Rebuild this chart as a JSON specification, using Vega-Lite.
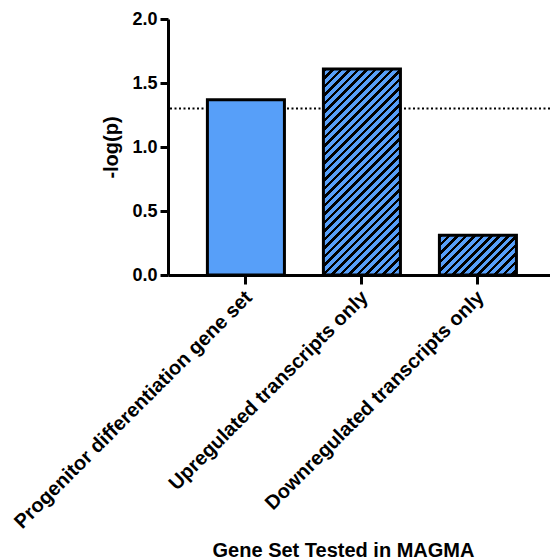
{
  "$schema": "https://vega.github.io/schema/vega-lite/v6.json",
  "autosize": "none",
  "width": 382,
  "height": 256,
  "padding": {"left": 168, "top": 19, "right": 0, "bottom": 285},
  "background": "white",
  "config": {"view": {"stroke": null}, "font": "Liberation Sans"},
  "datasets": {
    "bars": [
      {"gene_set": "Progenitor differentiation gene set", "neg_log_p": 1.37},
      {"gene_set": "Upregulated transcripts only", "neg_log_p": 1.61},
      {"gene_set": "Downregulated transcripts only", "neg_log_p": 0.31}
    ],
    "threshold": [{"neg_log_p": 1.30}]
  },
  "encoding": {
    "y": {
      "field": "neg_log_p", "type": "quantitative",
      "scale": {"domain": [0, 2], "nice": false},
      "axis": {
        "title": "-log(p)", "values": [0, 0.5, 1, 1.5, 2], "format": ".1f",
        "grid": false, "domainColor": "black", "domainWidth": 3,
        "tickColor": "black", "tickWidth": 3, "tickSize": 8,
        "labelFont": "Liberation Sans", "labelFontSize": 18, "labelFontWeight": "bold",
        "labelColor": "black", "labelPadding": 3,
        "titleFont": "Liberation Sans", "titleFontSize": 20, "titleFontWeight": "bold",
        "titleColor": "black", "titlePadding": 10
      }
    }
  },
  "layer": [
    {
      "data": {"name": "threshold"},
      "mark": {"type": "rule", "color": "black", "strokeWidth": 2, "strokeDash": [2, 2.5]},
      "encoding": {}
    },
    {
      "data": {"name": "bars"},
      "transform": [{"filter": "datum.gene_set === 'Progenitor differentiation gene set'"}],
      "mark": {"type": "bar", "fill": "#579ff9", "stroke": "black", "strokeWidth": 3},
      "encoding": {
        "x": {
          "field": "gene_set", "type": "nominal",
          "scale": {"domain": ["Progenitor differentiation gene set", "Upregulated transcripts only", "Downregulated transcripts only"], "paddingInner": 0.336, "paddingOuter": 0.3145, "align": 0.54},
          "axis": {
            "title": "Gene Set Tested in MAGMA", "grid": false,
            "domainColor": "black", "domainWidth": 3,
            "tickColor": "black", "tickWidth": 3, "tickSize": 9,
            "labelAngle": -45, "labelAlign": "right", "labelBaseline": "middle",
            "labelFont": "Liberation Sans", "labelFontSize": 20, "labelFontWeight": "bold", "labelColor": "black",
            "labelPadding": 10, "labelOffset": 3, "labelLimit": 0,
            "titleFont": "Liberation Sans", "titleFontSize": 20, "titleFontWeight": "bold",
            "titleColor": "black", "titleX": 175, "titleY": 281, "titleBaseline": "alphabetic"
          }
        }
      }
    },
    {
      "data": {"name": "bars"},
      "transform": [{"filter": "datum.gene_set === 'Upregulated transcripts only'"}],
      "mark": {
        "type": "bar", "stroke": "black", "strokeWidth": 3,
        "fill": {
          "gradient": "linear", "x1": 0, "y1": 0, "x2": 0.4504, "y2": 1.2055,
          "stops": [
            {"offset": 0, "color": "#000"}, {"offset": 0.013, "color": "#000"}, {"offset": 0.013, "color": "#579ff9"}, {"offset": 0.03, "color": "#579ff9"},
            {"offset": 0.03, "color": "#000"}, {"offset": 0.043, "color": "#000"}, {"offset": 0.043, "color": "#579ff9"}, {"offset": 0.06, "color": "#579ff9"},
            {"offset": 0.06, "color": "#000"}, {"offset": 0.073, "color": "#000"}, {"offset": 0.073, "color": "#579ff9"}, {"offset": 0.09, "color": "#579ff9"},
            {"offset": 0.09, "color": "#000"}, {"offset": 0.103, "color": "#000"}, {"offset": 0.103, "color": "#579ff9"}, {"offset": 0.12, "color": "#579ff9"},
            {"offset": 0.12, "color": "#000"}, {"offset": 0.133, "color": "#000"}, {"offset": 0.133, "color": "#579ff9"}, {"offset": 0.15, "color": "#579ff9"},
            {"offset": 0.15, "color": "#000"}, {"offset": 0.163, "color": "#000"}, {"offset": 0.163, "color": "#579ff9"}, {"offset": 0.18, "color": "#579ff9"},
            {"offset": 0.18, "color": "#000"}, {"offset": 0.193, "color": "#000"}, {"offset": 0.193, "color": "#579ff9"}, {"offset": 0.21, "color": "#579ff9"},
            {"offset": 0.21, "color": "#000"}, {"offset": 0.223, "color": "#000"}, {"offset": 0.223, "color": "#579ff9"}, {"offset": 0.24, "color": "#579ff9"},
            {"offset": 0.24, "color": "#000"}, {"offset": 0.253, "color": "#000"}, {"offset": 0.253, "color": "#579ff9"}, {"offset": 0.27, "color": "#579ff9"},
            {"offset": 0.27, "color": "#000"}, {"offset": 0.283, "color": "#000"}, {"offset": 0.283, "color": "#579ff9"}, {"offset": 0.30, "color": "#579ff9"},
            {"offset": 0.30, "color": "#000"}, {"offset": 0.313, "color": "#000"}, {"offset": 0.313, "color": "#579ff9"}, {"offset": 0.33, "color": "#579ff9"},
            {"offset": 0.33, "color": "#000"}, {"offset": 0.343, "color": "#000"}, {"offset": 0.343, "color": "#579ff9"}, {"offset": 0.36, "color": "#579ff9"},
            {"offset": 0.36, "color": "#000"}, {"offset": 0.373, "color": "#000"}, {"offset": 0.373, "color": "#579ff9"}, {"offset": 0.39, "color": "#579ff9"},
            {"offset": 0.39, "color": "#000"}, {"offset": 0.403, "color": "#000"}, {"offset": 0.403, "color": "#579ff9"}, {"offset": 0.42, "color": "#579ff9"},
            {"offset": 0.42, "color": "#000"}, {"offset": 0.433, "color": "#000"}, {"offset": 0.433, "color": "#579ff9"}, {"offset": 0.45, "color": "#579ff9"},
            {"offset": 0.45, "color": "#000"}, {"offset": 0.463, "color": "#000"}, {"offset": 0.463, "color": "#579ff9"}, {"offset": 0.48, "color": "#579ff9"},
            {"offset": 0.48, "color": "#000"}, {"offset": 0.493, "color": "#000"}, {"offset": 0.493, "color": "#579ff9"}, {"offset": 0.51, "color": "#579ff9"},
            {"offset": 0.51, "color": "#000"}, {"offset": 0.523, "color": "#000"}, {"offset": 0.523, "color": "#579ff9"}, {"offset": 0.54, "color": "#579ff9"},
            {"offset": 0.54, "color": "#000"}, {"offset": 0.553, "color": "#000"}, {"offset": 0.553, "color": "#579ff9"}, {"offset": 0.57, "color": "#579ff9"},
            {"offset": 0.57, "color": "#000"}, {"offset": 0.583, "color": "#000"}, {"offset": 0.583, "color": "#579ff9"}, {"offset": 0.60, "color": "#579ff9"},
            {"offset": 0.60, "color": "#000"}, {"offset": 0.613, "color": "#000"}, {"offset": 0.613, "color": "#579ff9"}, {"offset": 0.63, "color": "#579ff9"},
            {"offset": 0.63, "color": "#000"}, {"offset": 0.643, "color": "#000"}, {"offset": 0.643, "color": "#579ff9"}, {"offset": 0.66, "color": "#579ff9"},
            {"offset": 0.66, "color": "#000"}, {"offset": 0.673, "color": "#000"}, {"offset": 0.673, "color": "#579ff9"}, {"offset": 0.69, "color": "#579ff9"},
            {"offset": 0.69, "color": "#000"}, {"offset": 0.703, "color": "#000"}, {"offset": 0.703, "color": "#579ff9"}, {"offset": 0.72, "color": "#579ff9"},
            {"offset": 0.72, "color": "#000"}, {"offset": 0.733, "color": "#000"}, {"offset": 0.733, "color": "#579ff9"}, {"offset": 0.75, "color": "#579ff9"},
            {"offset": 0.75, "color": "#000"}, {"offset": 0.763, "color": "#000"}, {"offset": 0.763, "color": "#579ff9"}, {"offset": 0.78, "color": "#579ff9"},
            {"offset": 0.78, "color": "#000"}, {"offset": 0.793, "color": "#000"}, {"offset": 0.793, "color": "#579ff9"}, {"offset": 0.81, "color": "#579ff9"},
            {"offset": 0.81, "color": "#000"}, {"offset": 0.823, "color": "#000"}, {"offset": 0.823, "color": "#579ff9"}, {"offset": 0.84, "color": "#579ff9"},
            {"offset": 0.84, "color": "#000"}, {"offset": 0.853, "color": "#000"}, {"offset": 0.853, "color": "#579ff9"}, {"offset": 0.87, "color": "#579ff9"},
            {"offset": 0.87, "color": "#000"}, {"offset": 0.883, "color": "#000"}, {"offset": 0.883, "color": "#579ff9"}, {"offset": 0.90, "color": "#579ff9"},
            {"offset": 0.90, "color": "#000"}, {"offset": 0.913, "color": "#000"}, {"offset": 0.913, "color": "#579ff9"}, {"offset": 0.93, "color": "#579ff9"},
            {"offset": 0.93, "color": "#000"}, {"offset": 0.943, "color": "#000"}, {"offset": 0.943, "color": "#579ff9"}, {"offset": 0.96, "color": "#579ff9"},
            {"offset": 0.96, "color": "#000"}, {"offset": 0.973, "color": "#000"}, {"offset": 0.973, "color": "#579ff9"}, {"offset": 0.99, "color": "#579ff9"},
            {"offset": 0.99, "color": "#000"}, {"offset": 1, "color": "#000"}
          ]
        }
      },
      "encoding": {
        "x": {"field": "gene_set", "type": "nominal"}
      }
    },
    {
      "data": {"name": "bars"},
      "transform": [{"filter": "datum.gene_set === 'Downregulated transcripts only'"}],
      "mark": {
        "type": "bar", "stroke": "black", "strokeWidth": 3,
        "fill": {
          "gradient": "linear", "x1": 0, "y1": 0, "x2": 1.1973, "y2": 0.617,
          "stops": [
            {"offset": 0, "color": "#000"}, {"offset": 0.031, "color": "#000"}, {"offset": 0.031, "color": "#579ff9"}, {"offset": 0.0725, "color": "#579ff9"},
            {"offset": 0.0725, "color": "#000"}, {"offset": 0.1035, "color": "#000"}, {"offset": 0.1035, "color": "#579ff9"}, {"offset": 0.145, "color": "#579ff9"},
            {"offset": 0.145, "color": "#000"}, {"offset": 0.176, "color": "#000"}, {"offset": 0.176, "color": "#579ff9"}, {"offset": 0.2175, "color": "#579ff9"},
            {"offset": 0.2175, "color": "#000"}, {"offset": 0.2485, "color": "#000"}, {"offset": 0.2485, "color": "#579ff9"}, {"offset": 0.29, "color": "#579ff9"},
            {"offset": 0.29, "color": "#000"}, {"offset": 0.321, "color": "#000"}, {"offset": 0.321, "color": "#579ff9"}, {"offset": 0.3625, "color": "#579ff9"},
            {"offset": 0.3625, "color": "#000"}, {"offset": 0.3935, "color": "#000"}, {"offset": 0.3935, "color": "#579ff9"}, {"offset": 0.435, "color": "#579ff9"},
            {"offset": 0.435, "color": "#000"}, {"offset": 0.466, "color": "#000"}, {"offset": 0.466, "color": "#579ff9"}, {"offset": 0.5075, "color": "#579ff9"},
            {"offset": 0.5075, "color": "#000"}, {"offset": 0.5385, "color": "#000"}, {"offset": 0.5385, "color": "#579ff9"}, {"offset": 0.58, "color": "#579ff9"},
            {"offset": 0.58, "color": "#000"}, {"offset": 0.611, "color": "#000"}, {"offset": 0.611, "color": "#579ff9"}, {"offset": 0.6525, "color": "#579ff9"},
            {"offset": 0.6525, "color": "#000"}, {"offset": 0.6835, "color": "#000"}, {"offset": 0.6835, "color": "#579ff9"}, {"offset": 0.725, "color": "#579ff9"},
            {"offset": 0.725, "color": "#000"}, {"offset": 0.756, "color": "#000"}, {"offset": 0.756, "color": "#579ff9"}, {"offset": 0.7975, "color": "#579ff9"},
            {"offset": 0.7975, "color": "#000"}, {"offset": 0.8285, "color": "#000"}, {"offset": 0.8285, "color": "#579ff9"}, {"offset": 0.87, "color": "#579ff9"},
            {"offset": 0.87, "color": "#000"}, {"offset": 0.901, "color": "#000"}, {"offset": 0.901, "color": "#579ff9"}, {"offset": 0.9425, "color": "#579ff9"},
            {"offset": 0.9425, "color": "#000"}, {"offset": 0.9735, "color": "#000"}, {"offset": 0.9735, "color": "#579ff9"}, {"offset": 1, "color": "#579ff9"}
          ]
        }
      },
      "encoding": {
        "x": {"field": "gene_set", "type": "nominal"}
      }
    }
  ]
}
